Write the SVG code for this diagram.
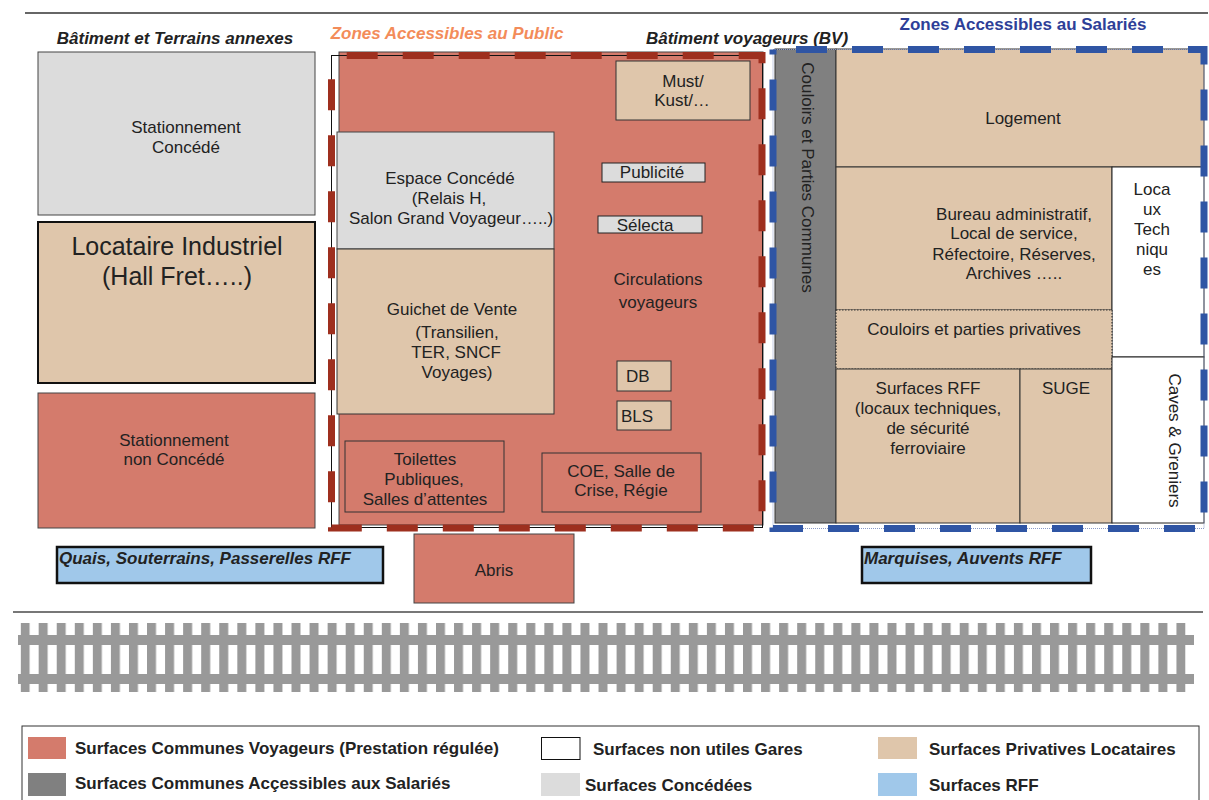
<svg xmlns="http://www.w3.org/2000/svg" width="1209" height="800" viewBox="0 0 1209 800">
<defs>
<style>
text{font-family:"Liberation Sans",Arial,sans-serif;font-size:17px;fill:#222;text-anchor:middle}
.bi{font-weight:bold;font-style:italic}
.st{text-anchor:start}
.lg{font-weight:bold;text-anchor:start}
.red{fill:#d47b6c;stroke:#444;stroke-width:1}
.tan{fill:#dfc6ab;stroke:#333;stroke-width:1}
.lgray{fill:#dcdcdc;stroke:#444;stroke-width:1}
.white{fill:#fff;stroke:#222;stroke-width:1}
.dgray{fill:#808080;stroke:#333;stroke-width:1}
.rff{fill:#a0c8ea;stroke:#111;stroke-width:2.5}
</style>
<pattern id="ties" patternUnits="userSpaceOnUse" x="20.6" y="623" width="18.06" height="69">
<rect x="0" y="0" width="9" height="69" fill="#999"/>
</pattern>
</defs>
<rect width="1209" height="800" fill="#fff"/>
<line x1="25" y1="13" x2="1208" y2="13" stroke="#333" stroke-width="1.5"/>

<text class="bi" x="175" y="44">Bâtiment et Terrains annexes</text>
<text class="bi" x="447" y="39" style="fill:#f38c5a">Zones Accessibles au Public</text>
<text class="bi" x="747" y="44">Bâtiment voyageurs (BV)</text>
<text x="1023" y="30" style="font-weight:bold;fill:#2e3f98">Zones Accessibles au Salariés</text>

<g id="stationnement-concede">
<rect class="lgray" x="38" y="52" width="277" height="163"/>
<text x="186" y="133">Stationnement</text>
<text x="186" y="153">Concédé</text>
</g>
<g id="locataire-industriel">
<rect x="38" y="222" width="277" height="161" fill="#dfc6ab" stroke="#111" stroke-width="2"/>
<text x="177" y="255" style="font-size:25px">Locataire Industriel</text>
<text x="177" y="285" style="font-size:25px">(Hall Fret…..)</text>
</g>
<g id="stationnement-non-concede">
<rect class="red" x="38" y="393" width="277" height="135"/>
<text x="174" y="446">Stationnement</text>
<text x="174" y="465">non Concédé</text>
</g>

<g id="zone-public">
<rect class="red" x="339" y="52" width="424" height="473"/>
</g>
<g id="espace-concede">
<rect class="lgray" x="337" y="132" width="217" height="117"/>
<text x="450" y="184">Espace Concédé</text>
<text x="449" y="204">(Relais H,</text>
<text x="451" y="224">Salon Grand Voyageur…..)</text>
</g>
<g id="guichet">
<rect class="tan" x="337" y="249" width="217" height="165"/>
<text x="452" y="315">Guichet de Vente</text>
<text x="457" y="338">(Transilien,</text>
<text x="456" y="358">TER, SNCF</text>
<text x="457" y="378">Voyages)</text>
</g>
<g id="must">
<rect class="tan" x="616" y="61" width="134" height="59"/>
<text x="683" y="87">Must/</text>
<text x="682" y="106">Kust/…</text>
</g>
<g id="publicite">
<rect x="602" y="163" width="103" height="19" fill="#dcdcdc" stroke="#222" stroke-width="1"/>
<text x="652" y="178">Publicité</text>
</g>
<g id="selecta">
<rect x="598" y="216" width="104" height="17" fill="#dcdcdc" stroke="#222" stroke-width="1"/>
<text x="645" y="231">Sélecta</text>
</g>
<g id="circulations">
<text x="658" y="285">Circulations</text>
<text x="658" y="308">voyageurs</text>
</g>
<g id="db">
<rect class="tan" x="617" y="361" width="54" height="30"/>
<text class="st" x="626" y="382">DB</text>
</g>
<g id="bls">
<rect class="tan" x="617" y="401" width="54" height="29"/>
<text class="st" x="621" y="422">BLS</text>
</g>
<g id="toilettes">
<rect x="345" y="441" width="159" height="71" fill="none" stroke="#333" stroke-width="1"/>
<text x="425" y="465">Toilettes</text>
<text x="424" y="485">Publiques,</text>
<text x="425" y="505">Salles d’attentes</text>
</g>
<g id="coe">
<rect x="542" y="453" width="159" height="59" fill="none" stroke="#333" stroke-width="1"/>
<text x="621" y="477">COE, Salle de</text>
<text x="621" y="496">Crise, Régie</text>
</g>
<g id="zone-public-border">
<rect x="331.5" y="55.5" width="431" height="472" fill="none" stroke="#111" stroke-width="1"/>
<rect x="331.5" y="55.5" width="430.5" height="472.5" fill="none" stroke="#9e2f1e" stroke-width="7" stroke-dasharray="31 25" stroke-dashoffset="40.8"/>
</g>

<g id="couloirs-communs">
<rect class="dgray" x="775" y="49" width="61" height="474"/>
<text transform="translate(802,177.5) rotate(90)">Couloirs et Parties Communes</text>
</g>
<g id="logement">
<rect class="tan" x="836" y="49" width="368" height="118"/>
<text x="1023" y="124">Logement</text>
</g>
<g id="bureau">
<rect class="tan" x="836" y="167" width="276" height="143"/>
<text x="1014" y="220">Bureau administratif,</text>
<text x="1014" y="239">Local de service,</text>
<text x="1014" y="260">Réfectoire, Réserves,</text>
<text x="1014" y="279">Archives …..</text>
</g>
<g id="locaux-techniques">
<rect class="white" x="1112" y="167" width="92" height="190"/>
<text x="1152" y="195">Loca</text>
<text x="1152" y="215">ux</text>
<text x="1152" y="235">Tech</text>
<text x="1152" y="255">niqu</text>
<text x="1152" y="275">es</text>
</g>
<g id="couloirs-privatives">
<rect x="836" y="310" width="276" height="59" fill="#dfc6ab" stroke="#333" stroke-width="1.2" stroke-dasharray="1.5 1.5"/>
<text x="974" y="335">Couloirs et parties privatives</text>
</g>
<g id="surfaces-rff">
<rect class="tan" x="836" y="369" width="184" height="154"/>
<text x="928" y="394">Surfaces RFF</text>
<text x="928" y="414">(locaux techniques,</text>
<text x="928" y="434">de sécurité</text>
<text x="928" y="454">ferroviaire</text>
</g>
<g id="suge">
<rect class="tan" x="1020" y="369" width="92" height="154"/>
<text x="1066" y="394">SUGE</text>
</g>
<g id="caves">
<rect class="white" x="1112" y="357" width="92" height="166"/>
<text transform="translate(1169,440.5) rotate(90)">Caves &amp; Greniers</text>
</g>
<g id="zone-salaries-border">
<rect x="773" y="49.5" width="431" height="479" fill="none" stroke="#8a9ac8" stroke-width="1" stroke-dasharray="1 1"/>
<rect x="773" y="49.5" width="431" height="479" fill="none" stroke="#2f55a4" stroke-width="7" stroke-dasharray="31 25" stroke-dashoffset="33"/>
</g>

<g id="quais">
<rect class="rff" x="57" y="547" width="326" height="36"/>
<text class="bi st" x="59" y="564">Quais, Souterrains, Passerelles RFF</text>
</g>
<g id="abris">
<rect class="red" x="414" y="534" width="160" height="69"/>
<text x="494" y="576">Abris</text>
</g>
<g id="marquises">
<rect class="rff" x="862" y="547" width="229" height="36"/>
<text class="bi st" x="864" y="564">Marquises, Auvents RFF</text>
</g>

<line x1="13" y1="612" x2="1203" y2="612" stroke="#777" stroke-width="2"/>
<g id="voie">
<rect x="20.6" y="623" width="1165" height="69" fill="url(#ties)"/>
<rect x="18" y="635" width="1176" height="10" fill="#999"/>
<rect x="18" y="674" width="1176" height="10" fill="#999"/>
</g>

<g id="connectors"></g>

<g id="legende">
<rect x="22" y="726" width="1177" height="90" fill="none" stroke="#333" stroke-width="1"/>
<rect x="28" y="737" width="38" height="22" fill="#d47b6c"/>
<text class="lg" x="75" y="754">Surfaces Communes Voyageurs (Prestation régulée)</text>
<rect x="28" y="773" width="38" height="23" fill="#808080"/>
<text class="lg" x="75" y="789">Surfaces Communes Acçessibles aux Salariés</text>
<rect x="541.5" y="737.5" width="38.5" height="22" fill="#fff" stroke="#111" stroke-width="1"/>
<text class="lg" x="593" y="755">Surfaces non utiles Gares</text>
<rect x="541" y="773" width="39" height="23" fill="#dcdcdc"/>
<text class="lg" x="585" y="791">Surfaces Concédées</text>
<rect x="878" y="737" width="39" height="22" fill="#dfc6ab"/>
<text class="lg" x="929" y="755">Surfaces Privatives Locataires</text>
<rect x="878" y="773" width="39" height="23" fill="#a0c8ea"/>
<text class="lg" x="929" y="791">Surfaces RFF</text>
</g>
</svg>
